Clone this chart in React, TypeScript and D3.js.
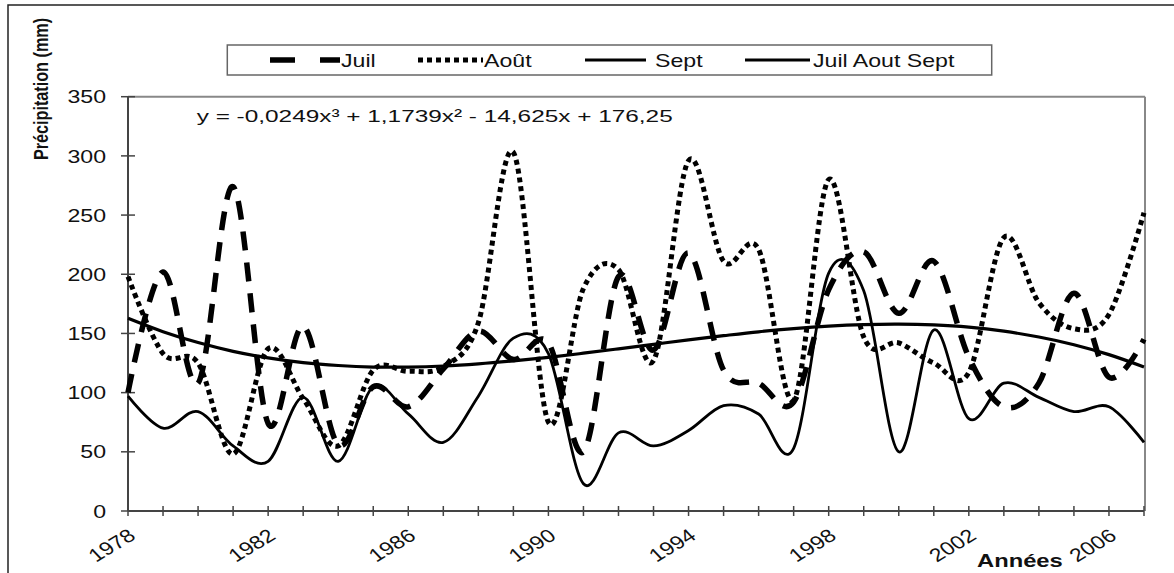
import React from "react";
import * as d3 from "d3";

// yearly values (mm), 1978 - 2007
const years = [
  1978, 1979, 1980, 1981, 1982, 1983, 1984, 1985, 1986, 1987, 1988, 1989, 1990, 1991, 1992,
  1993, 1994, 1995, 1996, 1997, 1998, 1999, 2000, 2001, 2002, 2003, 2004, 2005, 2006, 2007,
];
const juil = [
  100, 202, 108, 274, 74, 156, 56, 105, 88, 120, 152, 128, 142, 50, 198,
  136, 218, 119, 108, 92, 187, 219, 167, 211, 130, 88, 108, 184, 113, 145,
];
const aout = [
  198, 133, 125, 48, 137, 95, 55, 119, 118, 122, 159, 303, 75, 188, 204,
  127, 296, 211, 221, 94, 280, 147, 142, 125, 117, 231, 176, 154, 166, 252,
];
const sept = [
  97, 70, 84, 55, 42, 96, 42, 105, 82, 58, 97, 146, 133, 23, 66,
  55, 68, 89, 82, 53, 201, 186, 50, 153, 78, 108, 96, 84, 88, 58,
];
// polynomial trend "Juil Aout Sept" as read on the chart
const trend = [
  162.8, 151.5, 142.3, 134.9, 129.4, 125.4, 122.9, 121.6, 121.6, 122.5, 124.3, 126.8, 129.8, 133.3, 137.0,
  140.8, 144.6, 148.1, 151.4, 154.1, 156.2, 157.5, 157.9, 157.2, 155.3, 151.9, 147.0, 140.5, 132.1, 121.7,
];
const yTicks = [0, 50, 100, 150, 200, 250, 300, 350];
const xLabels = [1978, 1982, 1986, 1990, 1994, 1998, 2002, 2006];
const equation = "y = -0,0249x³ + 1,1739x² - 14,625x + 176,25";

const W = 1174;
const H = 573;
const font = "'Liberation Sans', Arial, sans-serif";

const x = d3.scaleLinear().domain([1978, 2007]).range([128, 1144]);
const y = d3.scaleLinear().domain([0, 350]).range([511, 96.7]);

const line = d3
  .line<number>()
  .x((_, i) => x(years[i]))
  .y((d) => y(d))
  .curve(d3.curveCardinal.tension(0));

const legendY = 60;

const App = () => {
  return (
    <svg
      width={W}
      height={H}
      style={{ position: "absolute", left: 0, top: 0, background: "#fff" }}
      fontFamily={font}
    >
      <rect x={8} y={5} width={1300} height={700} fill="#fff" stroke="#222" strokeWidth={1.5} />

      {/* plot frame */}
      <line x1={x(1978)} x2={x(2007) + 1} y1={y(350)} y2={y(350)} stroke="#888" strokeWidth={2} />
      <line x1={x(2007) + 1} x2={x(2007) + 1} y1={y(350)} y2={y(0)} stroke="#888" strokeWidth={2} />

      {/* y axis */}
      <line x1={x(1978)} x2={x(1978)} y1={y(350)} y2={y(0)} stroke="#444" strokeWidth={2} />
      {yTicks.map((t) => (
        <g key={t}>
          <line x1={x(1978) - 7} x2={x(1978) + 7} y1={y(t)} y2={y(t)} stroke="#444" strokeWidth={1.5} />
          <text
            transform={`translate(106,${y(t)}) scale(1.25,1)`}
            textAnchor="end"
            dominantBaseline="central"
            fontSize={18.5}
            fill="#111"
          >
            {t}
          </text>
        </g>
      ))}

      {/* x axis */}
      <line x1={x(1978)} x2={x(2007)} y1={y(0)} y2={y(0)} stroke="#444" strokeWidth={2} />
      {years.map((yr) => (
        <line key={yr} x1={x(yr)} x2={x(yr)} y1={y(0) - 5} y2={y(0) + 5} stroke="#444" strokeWidth={1.5} />
      ))}
      {xLabels.map((yr) => (
        <text
          key={yr}
          transform={`translate(${x(yr) + 9},${538}) scale(1.25,1) rotate(-37)`}
          textAnchor="end"
          fontSize={18.5}
          fill="#111"
        >
          {yr}
        </text>
      ))}
      <text
        transform="translate(977,567) scale(1.25,1)"
        fontSize={19}
        fontWeight="bold"
        fill="#111"
      >
        Années
      </text>

      <text
        transform="translate(41,89) scale(1.25,1) rotate(-90)"
        textAnchor="middle"
        dominantBaseline="central"
        fontSize={16.2}
        fontWeight="bold"
        fill="#111"
      >
        Précipitation (mm)
      </text>

      {/* series */}
      <path d={line(juil) ?? ""} fill="none" stroke="#000" strokeWidth={5.5} strokeDasharray="19 12" />
      <path d={line(aout) ?? ""} fill="none" stroke="#000" strokeWidth={5} strokeDasharray="5 4" />
      <path d={line(sept) ?? ""} fill="none" stroke="#000" strokeWidth={2.8} />
      <path d={line(trend) ?? ""} fill="none" stroke="#000" strokeWidth={3.2} />

      <text x={196.7} y={122} fontSize={17} textLength={476} lengthAdjust="spacingAndGlyphs" fill="#111">
        {equation}
      </text>

      {/* legend */}
      <rect x={227.3} y={45} width={764.4} height={30} fill="#fff" stroke="#666" strokeWidth={1.5} />
      <line x1={270} x2={340} y1={legendY} y2={legendY} stroke="#000" strokeWidth={5.5} strokeDasharray="25 25" />
      <text transform={`translate(341,66.7) scale(1.25,1)`} fontSize={18.5} fill="#111">Juil</text>
      <line x1={418} x2={483} y1={legendY} y2={legendY} stroke="#000" strokeWidth={5} strokeDasharray="5 4" />
      <text transform={`translate(484,66.7) scale(1.25,1)`} fontSize={18.5} fill="#111">Août</text>
      <line x1={585} x2={646} y1={legendY} y2={legendY} stroke="#000" strokeWidth={3} />
      <text transform={`translate(655,66.7) scale(1.25,1)`} fontSize={18.5} fill="#111">Sept</text>
      <line x1={745} x2={810} y1={legendY} y2={legendY} stroke="#000" strokeWidth={3} />
      <text transform={`translate(813,66.7) scale(1.25,1)`} fontSize={18.5} fill="#111">Juil Aout Sept</text>
    </svg>
  );
};

export default App;
